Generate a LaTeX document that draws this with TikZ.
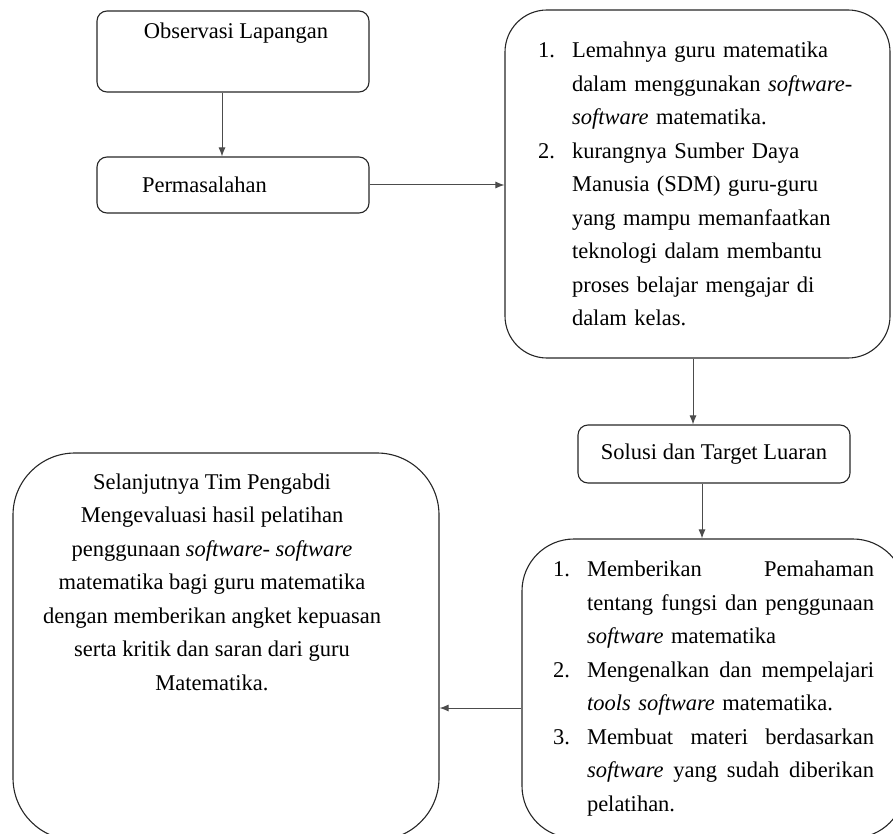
\documentclass[tikz,border=0pt]{standalone}
\usepackage{fontspec}
\setmainfont{Liberation Serif}
\usetikzlibrary{arrows.meta}
\newcommand{\nr}[1]{\makebox[34pt][l]{#1}}
\newcommand{\ind}{\hspace*{34pt}}
\newcommand{\jline}[1]{\makebox[287pt][l]{#1}}

\begin{document}
\begin{tikzpicture}[x=1pt,y=-1pt,
  font=\fontsize{22.5}{33.5}\selectfont,
  box/.style={draw=black!85,line width=1.1pt,rounded corners=10pt,inner sep=0pt},
  bigbox/.style={box,rounded corners=#1},
  conn/.style={draw=black!70,line width=1pt,-{Latex[length=9pt,width=7pt]}}]
\clip (0,0) rectangle (893,834);

\node[box,minimum width=272pt,minimum height=81pt] (obs) at (233,51.5) {};
\node (obstext) at (236,33) {Observasi Lapangan};

\node[box,minimum width=272pt,minimum height=56pt,text width=182pt,align=left] (perm) at (233,185) {Permasalahan};

\node[bigbox=42pt,minimum width=385pt,minimum height=348pt,text width=319pt,align=left] (masalah) at (697.5,184) {%
\nr{1.}Lemahnya guru matematika\\
\ind dalam menggunakan \textit{software-}\\
\ind\textit{software} matematika.\\
\nr{2.}kurangnya Sumber Daya\\
\ind Manusia (SDM) guru-guru\\
\ind yang mampu memanfaatkan\\
\ind teknologi dalam membantu\\
\ind proses belajar mengajar di\\
\ind dalam kelas.};

\node[box,minimum width=272pt,minimum height=58pt] (solusi) at (714,454) {Solusi dan Target Luaran};

\node[bigbox=52pt,minimum width=383pt,minimum height=299pt,text width=321pt,align=left] (luaran) at (713.5,688.5) {%
\nr{1.}\jline{Memberikan\hfill Pemahaman}\\
\ind\jline{tentang\hfill fungsi\hfill dan\hfill penggunaan}\\
\ind\textit{software} matematika\\
\nr{2.}\jline{Mengenalkan\hfill dan\hfill mempelajari}\\
\ind\textit{tools software} matematika.\\
\nr{3.}\jline{Membuat\hfill materi\hfill berdasarkan}\\
\ind\jline{\textit{software}\hfill yang\hfill sudah\hfill diberikan}\\
\ind pelatihan.};

\node[bigbox=62pt,minimum width=426pt,minimum height=387pt] (evaluasi) at (226,646.5) {};
\node[anchor=north,align=center] (evaltext) at (212,470) {Selanjutnya Tim Pengabdi\\
Mengevaluasi hasil pelatihan\\
penggunaan \textit{software- software}\\
matematika bagi guru matematika\\
dengan memberikan angket kepuasan\\
serta kritik dan saran dari guru\\
Matematika.};

\draw[conn] ([xshift=-11pt]obs.south) -- ([xshift=-11pt]perm.north);
\draw[conn] (perm.east) -- (perm.east -| masalah.west);
\draw[conn] ([xshift=-4.5pt]masalah.south) -- ([xshift=-4.5pt]masalah.south |- solusi.north);
\draw[conn] ([xshift=-12pt]solusi.south) -- ([xshift=-12pt]solusi.south |- luaran.north);
\draw[conn] ([yshift=-19.5pt]luaran.west) -- ([yshift=-19.5pt]luaran.west -| evaluasi.east);
\end{tikzpicture}
\end{document}
